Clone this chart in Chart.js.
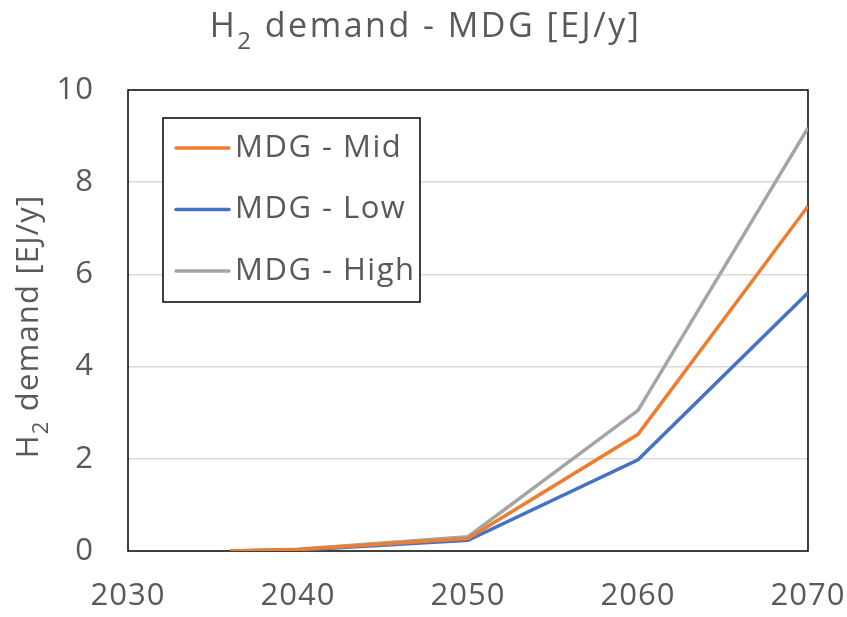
<!DOCTYPE html>
<html>
<head>
<meta charset="utf-8">
<script src="https://cdn.jsdelivr.net/npm/chart.js@4.4.1/dist/chart.umd.min.js"></script>
<style>
  html, body { margin: 0; padding: 0; background: #ffffff; }
  #wrap { width: 847px; height: 617px; }
</style>
</head>
<body>
<div id="wrap"><canvas id="c" width="847" height="617"></canvas></div>
<script>
// Years on the horizontal axis
const years = [2036, 2040, 2050, 2060, 2070];
// Hydrogen demand per scenario, EJ/y
const mdgMid  = [0, 0.03, 0.27, 2.53, 7.48];
const mdgLow  = [0, 0.02, 0.23, 1.98, 5.60];
const mdgHigh = [0, 0.04, 0.31, 3.05, 9.18];
// Tick labels
const xTickLabels = ['2030', '2040', '2050', '2060', '2070'];
const yTickLabels = ['0', '2', '4', '6', '8', '10'];

const seriesNames = ['MDG - Mid', 'MDG - Low', 'MDG - High'];
const seriesColors = ['#ED7D31', '#4472C4', '#A5A5A5'];
const seriesValues = [mdgMid, mdgLow, mdgHigh];

const FONT = "'Open Sans', 'DejaVu Sans', sans-serif";
const TEXT = '#595959';

const datasets = seriesValues.map((vals, i) => ({
  label: seriesNames[i],
  data: years.map((yr, k) => ({ x: yr, y: vals[k] })),
  borderColor: seriesColors[i],
  backgroundColor: seriesColors[i],
  borderWidth: 3.5,
  pointRadius: 0,
  tension: 0,
  fill: false
}));

// Draws "H" + subscript "2" + rest, starting at x along the baseline
function drawH2Text(ctx, rest, x, y, size, subSize, subDrop, spacing) {
  ctx.letterSpacing = spacing + 'px';
  ctx.font = size + 'px ' + FONT;
  ctx.fillText('H', x, y);
  x += ctx.measureText('H').width;
  ctx.font = subSize + 'px ' + FONT;
  ctx.fillText('2', x, y + subDrop);
  x += ctx.measureText('2').width;
  ctx.font = size + 'px ' + FONT;
  ctx.fillText(rest, x, y);
}
function widthH2Text(ctx, rest, size, subSize, spacing) {
  ctx.letterSpacing = spacing + 'px';
  ctx.font = size + 'px ' + FONT;
  let w = ctx.measureText('H').width + ctx.measureText(rest).width;
  ctx.font = subSize + 'px ' + FONT;
  w += ctx.measureText('2').width;
  return w;
}

// Slightly wider letter spacing for all chart text
const spacing = {
  id: 'spacing',
  beforeDraw(chart) { chart.ctx.letterSpacing = '1px'; }
};

// Black frame around the plot area, drawn beneath the lines
const frame = {
  id: 'frame',
  beforeDatasetsDraw(chart) {
    const { ctx, chartArea: a } = chart;
    ctx.save();
    ctx.strokeStyle = '#000000';
    ctx.lineWidth = 1.5;
    ctx.strokeRect(a.left, a.top, a.right - a.left, a.bottom - a.top);
    ctx.restore();
  }
};

// Chart title and vertical axis title with a real subscript
const titles = {
  id: 'titles',
  afterDraw(chart) {
    const { ctx, chartArea: a } = chart;
    ctx.save();
    ctx.fillStyle = TEXT;
    ctx.textBaseline = 'alphabetic';
    ctx.textAlign = 'left';
    // main title
    const tRest = ' demand - MDG [EJ/y]';
    const tw = widthH2Text(ctx, tRest, 34, 24, 2.5);
    drawH2Text(ctx, tRest, chart.width / 2 - tw / 2 + 2, 37, 34, 24, 12, 2.5);
    // vertical axis title
    const yRest = ' demand [EJ/y]';
    const yw = widthH2Text(ctx, yRest, 31, 22, 1.2);
    ctx.translate(38, (a.top + a.bottom) / 2 + 6);
    ctx.rotate(-Math.PI / 2);
    drawH2Text(ctx, yRest, -yw / 2, 0, 31, 22, 10, 1.2);
    ctx.restore();
  }
};

// Boxed legend inside the plot area
const boxLegend = {
  id: 'boxLegend',
  afterDraw(chart) {
    const { ctx } = chart;
    const x0 = 163, y0 = 118, w = 257, h = 184;
    ctx.save();
    ctx.fillStyle = '#ffffff';
    ctx.fillRect(x0, y0, w, h);
    ctx.strokeStyle = '#000000';
    ctx.lineWidth = 1.5;
    ctx.strokeRect(x0, y0, w, h);
    ctx.font = '31px ' + FONT;
    ctx.letterSpacing = '1.5px';
    ctx.textBaseline = 'middle';
    ctx.textAlign = 'left';
    chart.data.datasets.forEach((ds, i) => {
      const cy = y0 + 30 + i * 61.5;
      ctx.strokeStyle = ds.borderColor;
      ctx.lineWidth = 3.5;
      ctx.lineCap = 'round';
      ctx.beginPath();
      ctx.moveTo(176, cy);
      ctx.lineTo(229, cy);
      ctx.stroke();
      ctx.fillStyle = TEXT;
      ctx.fillText(ds.label, 235, cy);
    });
    ctx.restore();
  }
};

new Chart(document.getElementById('c'), {
  type: 'line',
  data: { datasets },
  plugins: [spacing, frame, titles, boxLegend],
  options: {
    responsive: false,
    animation: false,
    devicePixelRatio: 1,
    layout: { padding: { left: 0, right: 39, top: 90, bottom: 0 } },
    plugins: {
      legend: { display: false },
      tooltip: { enabled: false },
      title: { display: false }
    },
    scales: {
      x: {
        type: 'linear',
        min: 2030,
        max: 2070,
        afterFit(s) { s.height = 66; s.paddingLeft = 0; s.paddingRight = 0; },
        afterBuildTicks(s) {
          s.ticks = xTickLabels.map(t => ({ value: Number(t) }));
        },
        ticks: {
          autoSkip: false,
          maxRotation: 0,
          color: TEXT,
          font: { family: FONT, size: 31 },
          padding: 27,
          callback: (v) => String(v)
        },
        grid: { display: false, drawTicks: false },
        border: { display: false }
      },
      y: {
        type: 'linear',
        min: 0,
        max: 10,
        afterFit(s) { s.width = 128; s.paddingTop = 0; s.paddingBottom = 0; },
        afterBuildTicks(s) {
          s.ticks = yTickLabels.map(t => ({ value: Number(t) }));
        },
        ticks: {
          color: TEXT,
          font: { family: FONT, size: 31 },
          padding: 34,
          callback: (v) => String(v)
        },
        grid: {
          drawTicks: false,
          lineWidth: 1.5,
          color: (c) => (c.tick && (c.tick.value === 0 || c.tick.value === 10)) ? 'rgba(0,0,0,0)' : '#D9D9D9'
        },
        border: { display: false }
      }
    }
  }
});
</script>
</body>
</html>
